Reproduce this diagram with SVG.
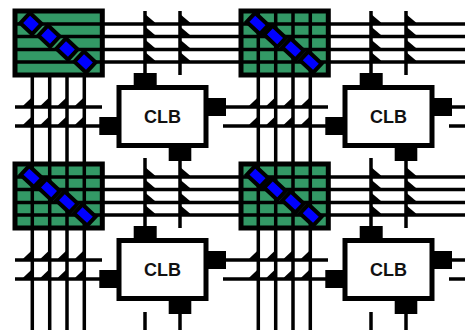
<svg xmlns="http://www.w3.org/2000/svg" xmlns:xlink="http://www.w3.org/1999/xlink" width="465" height="330" viewBox="0 0 465 330">
<style>
.w{stroke:#000;stroke-width:3.5;fill:none}
.k{fill:#000;stroke:none}
.sb{fill:#339966;stroke:#000;stroke-width:5}
.clb{fill:#fff;stroke:#000;stroke-width:5}
.t{fill:#0000ff;stroke:#000;stroke-width:4}
.lab{font-family:"Liberation Sans",Arial,sans-serif;font-weight:700;font-size:18px;fill:#111;text-anchor:middle}
</style>
<defs>
<polygon id="hr" class="k" points="0,-10 10,-1.5 10,0 0,0"/>
<polygon id="hl" class="k" points="0,-10 -9,-1.5 -9,0 0,0"/>
<g id="hchan">
<line class="w" x1="104" y1="24" x2="239" y2="24"/>
<line class="w" x1="104" y1="36.5" x2="239" y2="36.5"/>
<line class="w" x1="104" y1="49.5" x2="239" y2="49.5"/>
<line class="w" x1="104" y1="62" x2="239" y2="62"/>
<use xlink:href="#hr" x="145" y="24"/><use xlink:href="#hr" x="145" y="36.5"/><use xlink:href="#hr" x="145" y="49.5"/><use xlink:href="#hr" x="145" y="62"/>
<use xlink:href="#hr" x="180" y="24"/><use xlink:href="#hr" x="180" y="36.5"/><use xlink:href="#hr" x="180" y="49.5"/><use xlink:href="#hr" x="180" y="62"/>
</g>
<g id="vhooks">
<use xlink:href="#hl" x="32.3" y="107"/><use xlink:href="#hl" x="49.7" y="107"/><use xlink:href="#hl" x="67" y="107"/><use xlink:href="#hl" x="84.3" y="107"/>
<use xlink:href="#hl" x="32.3" y="126"/><use xlink:href="#hl" x="49.7" y="126"/><use xlink:href="#hl" x="67" y="126"/><use xlink:href="#hl" x="84.3" y="126"/>
</g>
<g id="vtop">
<line class="w" x1="32.3" y1="77" x2="32.3" y2="163"/><line class="w" x1="49.7" y1="77" x2="49.7" y2="163"/><line class="w" x1="67" y1="77" x2="67" y2="163"/><line class="w" x1="84.3" y1="77" x2="84.3" y2="163"/>
</g>
<g id="vbot">
<line class="w" x1="32.3" y1="230" x2="32.3" y2="330"/><line class="w" x1="49.7" y1="230" x2="49.7" y2="330"/><line class="w" x1="67" y1="230" x2="67" y2="330"/><line class="w" x1="84.3" y1="230" x2="84.3" y2="330"/>
</g>
<g id="hgrid">
<line class="w" x1="15" y1="24" x2="102" y2="24"/><line class="w" x1="15" y1="36.5" x2="102" y2="36.5"/><line class="w" x1="15" y1="49.5" x2="102" y2="49.5"/><line class="w" x1="15" y1="62" x2="102" y2="62"/>
</g>
<g id="vgrid">
<line class="w" x1="32.3" y1="11" x2="32.3" y2="75"/><line class="w" x1="49.7" y1="11" x2="49.7" y2="75"/><line class="w" x1="67" y1="11" x2="67" y2="75"/><line class="w" x1="84.3" y1="11" x2="84.3" y2="75"/>
</g>
<g id="tiles">
<rect class="t" x="-9" y="-6.2" width="18" height="12.4" transform="translate(31.5,23.5) rotate(43)"/>
<rect class="t" x="-9" y="-6.2" width="18" height="12.4" transform="translate(49,36.3) rotate(43)"/>
<rect class="t" x="-9" y="-6.2" width="18" height="12.4" transform="translate(67,49) rotate(43)"/>
<rect class="t" x="-9" y="-6.2" width="18" height="12.4" transform="translate(84.8,62) rotate(43)"/>
</g>
<g id="tiles0">
<rect class="t" x="-8" y="-7" width="16" height="14" transform="translate(31,23.5) rotate(43)"/>
<rect class="t" x="-8" y="-7" width="16" height="14" transform="translate(49,36) rotate(43)"/>
<rect class="t" x="-8" y="-7" width="16" height="14" transform="translate(67,49) rotate(43)"/>
<rect class="t" x="-8" y="-7" width="16" height="14" transform="translate(85,62) rotate(43)"/>
</g>
<g id="clbbody">
<rect class="k" x="133.7" y="73" width="23" height="13"/>
<rect class="k" x="207" y="98" width="19" height="18"/>
<rect class="k" x="168.7" y="146" width="22.6" height="15"/>
<rect class="k" x="99.3" y="117" width="19" height="18"/>
<rect class="clb" x="119" y="87.5" width="87" height="58"/>
</g>
</defs>
<g id="connectors">
<use xlink:href="#hchan"/>
<use xlink:href="#hchan" x="226"/>
<use xlink:href="#hchan" y="153"/>
<use xlink:href="#hchan" x="226" y="153"/>
<use xlink:href="#vtop"/>
<use xlink:href="#vtop" x="226"/>
<use xlink:href="#vbot"/>
<use xlink:href="#vbot" x="226"/>
<line class="w" x1="145" y1="11" x2="145" y2="74"/>
<line class="w" x1="180" y1="11" x2="180" y2="75"/>
<line class="w" x1="371" y1="11" x2="371" y2="74"/>
<line class="w" x1="406" y1="11" x2="406" y2="75"/>
<line class="w" x1="145" y1="158" x2="145" y2="227"/>
<line class="w" x1="180" y1="160" x2="180" y2="228"/>
<line class="w" x1="371" y1="158" x2="371" y2="227"/>
<line class="w" x1="406" y1="160" x2="406" y2="228"/>
<line class="w" x1="145" y1="312" x2="145" y2="330"/>
<line class="w" x1="180" y1="313" x2="180" y2="330"/>
<line class="w" x1="371" y1="312" x2="371" y2="330"/>
<line class="w" x1="406" y1="313" x2="406" y2="330"/>
<line class="w" x1="15" y1="107" x2="102" y2="107"/>
<line class="w" x1="15" y1="126" x2="100" y2="126"/>
<line class="w" x1="225" y1="107" x2="328" y2="107"/>
<line class="w" x1="223" y1="126" x2="326" y2="126"/>
<line class="w" x1="451" y1="107" x2="465" y2="107"/>
<line class="w" x1="449" y1="126" x2="465" y2="126"/>
<line class="w" x1="15" y1="260" x2="102" y2="260"/>
<line class="w" x1="15" y1="279" x2="100" y2="279"/>
<line class="w" x1="225" y1="260" x2="328" y2="260"/>
<line class="w" x1="223" y1="279" x2="326" y2="279"/>
<line class="w" x1="451" y1="260" x2="465" y2="260"/>
<line class="w" x1="449" y1="279" x2="465" y2="279"/>
<use xlink:href="#vhooks"/>
<use xlink:href="#vhooks" x="226"/>
<use xlink:href="#vhooks" y="153"/>
<use xlink:href="#vhooks" x="226" y="153"/>
</g>
<g id="sb-1-1">
<rect class="sb" x="15" y="11" width="87.3" height="64"/>
<use xlink:href="#hgrid"/>
<use xlink:href="#tiles0"/>
</g>
<g id="sb-1-2" transform="translate(226,0)">
<rect class="sb" x="15" y="11" width="87.3" height="64"/>
<use xlink:href="#hgrid"/>
<use xlink:href="#vgrid"/>
<use xlink:href="#tiles"/>
</g>
<g id="sb-2-1" transform="translate(0,153)">
<rect class="sb" x="15" y="11" width="87.3" height="64"/>
<use xlink:href="#hgrid"/>
<use xlink:href="#vgrid"/>
<use xlink:href="#tiles"/>
</g>
<g id="sb-2-2" transform="translate(226,153)">
<rect class="sb" x="15" y="11" width="87.3" height="64"/>
<use xlink:href="#hgrid"/>
<use xlink:href="#vgrid"/>
<use xlink:href="#tiles"/>
</g>
<g id="clb-1-1">
<use xlink:href="#clbbody"/>
<text class="lab" x="162.5" y="122.5">CLB</text>
</g>
<g id="clb-1-2" transform="translate(226,0)">
<use xlink:href="#clbbody"/>
<text class="lab" x="162.5" y="122.5">CLB</text>
</g>
<g id="clb-2-1" transform="translate(0,153)">
<use xlink:href="#clbbody"/>
<text class="lab" x="162.5" y="122.5">CLB</text>
</g>
<g id="clb-2-2" transform="translate(226,153)">
<use xlink:href="#clbbody"/>
<text class="lab" x="162.5" y="122.5">CLB</text>
</g>
</svg>
